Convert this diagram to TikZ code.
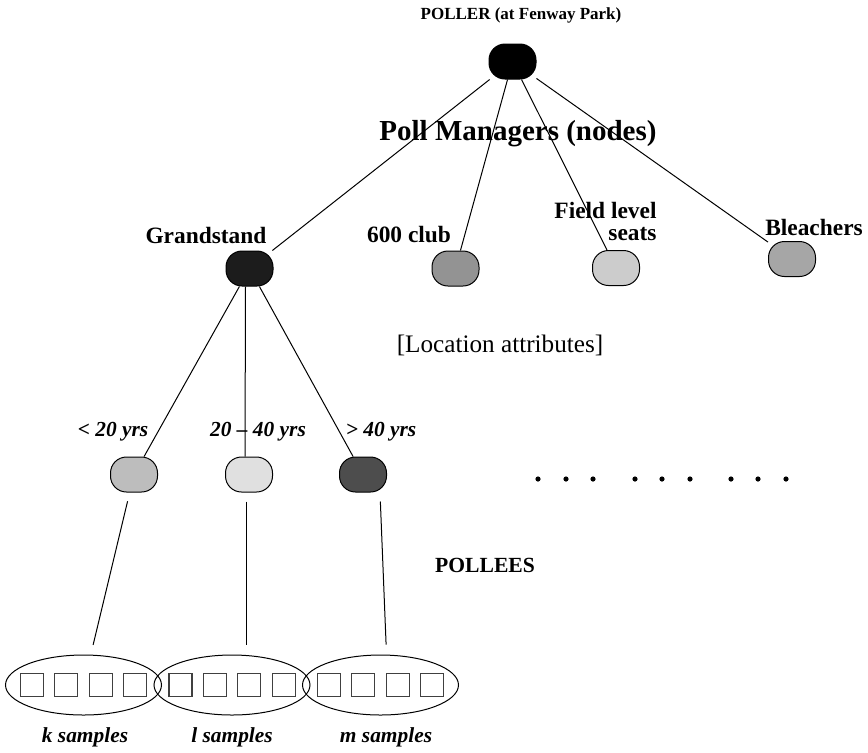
\documentclass[tikz,border=0pt]{standalone}
\usepackage{fontspec}
\setmainfont{Liberation Serif}
\usetikzlibrary{shapes.geometric}
\definecolor{Grand}{RGB}{28,28,28}
\definecolor{Club}{RGB}{147,147,147}
\definecolor{Field}{RGB}{204,204,204}
\definecolor{Bleach}{RGB}{166,166,166}
\definecolor{Young}{RGB}{189,189,189}
\definecolor{Middle}{RGB}{224,224,224}
\definecolor{Old}{RGB}{77,77,77}
\tikzset{
  mgr/.style={draw, rounded corners=8pt, minimum width=23.5pt, minimum height=17.5pt, inner sep=0pt},
  lbl/.style={font=\fontsize{11.7}{11}\selectfont\bfseries, inner sep=0pt},
  agelbl/.style={font=\fontsize{10.7}{12}\selectfont\bfseries\itshape, inner sep=0pt},
  grp/.style={draw, ellipse, minimum width=78pt, minimum height=30pt, inner sep=0pt},
  cell/.style={draw=black!75, minimum size=11.5pt, inner sep=0pt, line width=0.6pt},
  dot/.style={circle, fill, inner sep=0pt, minimum size=2.6pt},
}
\begin{document}
\begin{tikzpicture}[x=0.5pt, y=-0.5pt, line width=0.5pt]
\useasboundingbox (0,0) rectangle (868,752);
% poller and managers
\node[font=\fontsize{8.5}{10}\selectfont\bfseries, inner sep=0pt] (pollertxt) at (521,15) {POLLER (at Fenway Park)};
\node[mgr, fill=black] (poller) at (512.5,61.5) {};
\node[font=\fontsize{14.5}{16}\selectfont\bfseries, inner sep=0pt] (mgrtxt) at (518,134) {Poll Managers (nodes)};
\node[mgr, fill=Grand]  (gs)     at (249.5,268.5) {};
\node[mgr, fill=Club]   (club)   at (455.5,268.5) {};
\node[mgr, fill=Field]  (field)  at (616,268) {};
\node[mgr, fill=Bleach] (bleach) at (792,259) {};
\node[lbl] at (206,235) {Grandstand};
\node[lbl] at (409,235) {600 club};
\node[lbl, align=right, anchor=east] at (657,221) {Field level\\seats};
\node[lbl] at (814,227) {Bleachers};
\draw (poller) -- (gs);
\draw (poller) -- (club);
\draw (poller) -- (field);
\draw (poller) -- (bleach);
\node[font=\fontsize{12.6}{14}\selectfont, inner sep=0pt] at (500,345) {[Location attributes]};
% age groups under the grandstand
\node[mgr, fill=Young]  (age1) at (134,474.5) {};
\node[mgr, fill=Middle] (age2) at (249,474.5) {};
\node[mgr, fill=Old]    (age3) at (363,474.5) {};
\node[agelbl] at (113,432) {< 20 yrs};
\node[agelbl] at (258,432) {20 -- 40 yrs};
\node[agelbl] at (381,432) {> 40 yrs};
\draw (gs) -- (age1);
\draw ([xshift=-2pt]gs.south) -- ([xshift=-2pt]age2.north);
\draw (gs) -- (age3);
\foreach \x in {538,566,593,635,662,690,731,758,786}
  \node[dot] at (\x,479) {};
% pollees
\node[font=\fontsize{10.8}{12}\selectfont\bfseries, inner sep=0pt] at (485,565) {POLLEES};
\node[grp] (grpk) at (83.5,685) {};
\node[grp] (grpl) at (232,685) {};
\node[grp] (grpm) at (380.5,685) {};
\foreach \g in {k,l,m}
  \foreach \i in {-1.5,-0.5,0.5,1.5}
    \node[cell] at ([xshift=\i*17.2pt]grp\g.center) {};
\draw[shorten <=4.5pt, shorten >=5pt] (age1) -- (grpk);
\draw[shorten <=4.5pt, shorten >=5pt] ([xshift=-1.5pt]age2.south) -- ([xshift=-1.5pt]age2.south |- grpl.north);
\draw[shorten <=4.5pt, shorten >=5pt] ([xshift=8.5pt]age3.south) -- ([xshift=3pt]grpm.north);
\node[agelbl] at (85,737) {k samples};
\node[agelbl] at (232,737) {l samples};
\node[agelbl] at (386,737) {m samples};
\end{tikzpicture}
\end{document}
